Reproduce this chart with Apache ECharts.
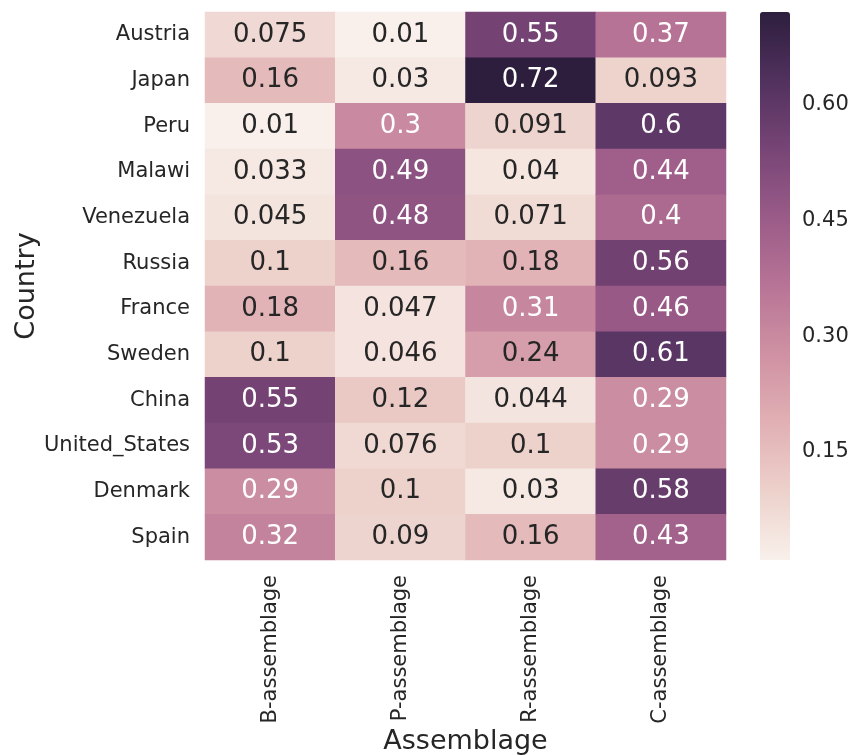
<!DOCTYPE html>
<html>
<head>
<meta charset="utf-8">
<script src="https://cdn.jsdelivr.net/npm/echarts@6/dist/echarts.min.js"></script>
<style>html,body{margin:0;padding:0;background:#fff;}#c{width:854px;height:755px;}</style>
</head>
<body>
<div id="c"></div>
<script>
const countries = ['Austria','Japan','Peru','Malawi','Venezuela','Russia','France','Sweden','China','United_States','Denmark','Spain'];
const assemblages = ['B-assemblage','P-assemblage','R-assemblage','C-assemblage'];
const bAssemblage = [0.075, 0.16, 0.01, 0.033, 0.045, 0.1, 0.18, 0.1, 0.55, 0.53, 0.29, 0.32];
const pAssemblage = [0.01, 0.03, 0.3, 0.49, 0.48, 0.16, 0.047, 0.046, 0.12, 0.076, 0.1, 0.09];
const rAssemblage = [0.55, 0.72, 0.091, 0.04, 0.071, 0.18, 0.31, 0.24, 0.044, 0.1, 0.03, 0.16];
const cAssemblage = [0.37, 0.093, 0.6, 0.44, 0.4, 0.56, 0.46, 0.61, 0.29, 0.29, 0.58, 0.43];
const colorbarTicks = [0.15, 0.30, 0.45, 0.60];

const columns = [bAssemblage, pAssemblage, rAssemblage, cAssemblage];
const cmapColors = ['#f9f0eb','#edd1cb','#e1b0b4','#cf91a3','#b87496','#9a5b88','#774576','#51315e','#2d1e3e'];
const font = 'DejaVu Sans';
const textDark = '#262626';

let all = [];
columns.forEach(c => all = all.concat(c));
const vmin = Math.min(...all), vmax = Math.max(...all);

function hexToRgb(h){return [parseInt(h.substr(1,2),16),parseInt(h.substr(3,2),16),parseInt(h.substr(5,2),16)];}
function colorFor(v){
  const t = (v - vmin) / (vmax - vmin) * (cmapColors.length - 1);
  const i = Math.min(Math.floor(t), cmapColors.length - 2);
  const f = t - i;
  const a = hexToRgb(cmapColors[i]), b = hexToRgb(cmapColors[i+1]);
  return a.map((x, k) => x + (b[k] - x) * f);
}
function luminance(rgb){
  const l = rgb.map(c => { c /= 255; return c <= 0.03928 ? c / 12.92 : Math.pow((c + 0.055) / 1.055, 2.4); });
  return 0.2126*l[0] + 0.7152*l[1] + 0.0722*l[2];
}

const data = [];
columns.forEach((col, xi) => {
  col.forEach((v, yi) => {
    const lum = luminance(colorFor(v));
    data.push({value: [xi, yi, v], label: {color: lum > 0.408 ? textDark : '#ffffff'}});
  });
});

const chart = echarts.init(document.getElementById('c'), null, {renderer: 'canvas'});
chart.setOption({
  backgroundColor: '#ffffff',
  animation: false,
  textStyle: {fontFamily: font},
  grid: [
    {left: 205, top: 12, width: 521, height: 548, outerBoundsMode: 'none', containLabel: false},
    {left: 760, top: 12, width: 30, height: 548, outerBoundsMode: 'none', containLabel: false}
  ],
  xAxis: [
    {
      type: 'category', data: assemblages, gridIndex: 0, position: 'bottom',
      axisLine: {show: false}, axisTick: {show: false}, splitLine: {show: false},
      axisLabel: {rotate: 90, fontSize: 21, color: textDark, margin: 15, fontFamily: font},
      name: 'Assemblage', nameLocation: 'middle', nameGap: 168, nameMoveOverlap: false,
      nameTextStyle: {fontSize: 27, color: textDark, fontFamily: font}
    },
    {type: 'value', gridIndex: 1, show: false, min: 0, max: 1}
  ],
  yAxis: [
    {
      type: 'category', data: countries, gridIndex: 0, inverse: true,
      axisLine: {show: false}, axisTick: {show: false}, splitLine: {show: false},
      axisLabel: {fontSize: 21, color: textDark, margin: 15, fontFamily: font},
      name: 'Country', nameLocation: 'middle', nameGap: 165, nameRotate: 90, nameMoveOverlap: false,
      nameTextStyle: {fontSize: 27, color: textDark, fontFamily: font}
    },
    {
      type: 'value', gridIndex: 1, position: 'right', min: vmin, max: vmax,
      axisLine: {show: false}, axisTick: {show: false}, splitLine: {show: false},
      axisLabel: {
        customValues: colorbarTicks, fontSize: 21, color: textDark, margin: 12, fontFamily: font,
        formatter: v => v.toFixed(2)
      }
    }
  ],
  visualMap: {
    type: 'continuous', min: vmin, max: vmax, calculable: false,
    seriesIndex: 0, orient: 'vertical', left: 760, top: 12, padding: 0,
    itemWidth: 30, itemHeight: 548, text: ['', ''], showLabel: false,
    inRange: {color: cmapColors}, hoverLink: false
  },
  series: [{
    type: 'heatmap', xAxisIndex: 0, yAxisIndex: 0, data: data,
    label: {show: true, fontSize: 26, fontFamily: font, formatter: p => String(p.value[2])},
    itemStyle: {borderWidth: 0},
    emphasis: {disabled: true}
  }]
});
</script>
</body>
</html>
